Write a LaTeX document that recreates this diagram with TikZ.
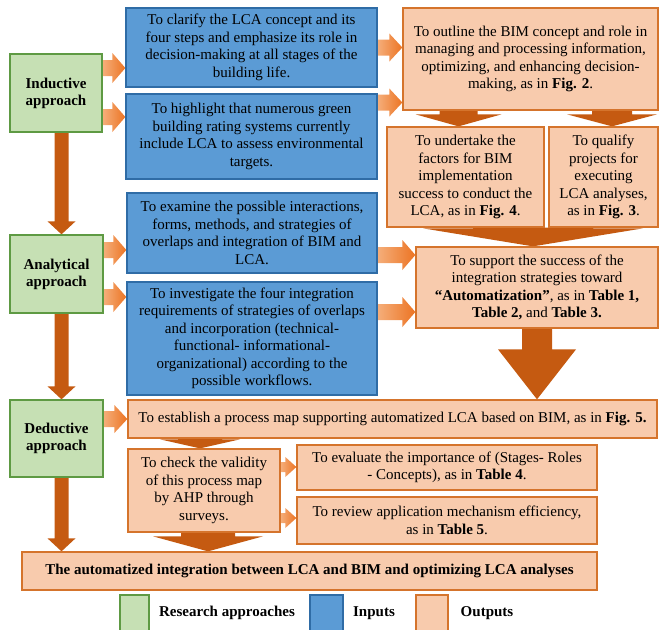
\documentclass[tikz,border=0pt]{standalone}
\usepackage{fontspec}
\setmainfont{Liberation Serif}
\usetikzlibrary{calc,backgrounds}
\definecolor{grnF}{HTML}{C6E0B4}
\definecolor{grnD}{HTML}{5E9A43}
\definecolor{bluF}{HTML}{5B9BD5}
\definecolor{bluD}{HTML}{2F6CA6}
\definecolor{orgF}{HTML}{F8CBAD}
\definecolor{orgD}{HTML}{D5742C}
\definecolor{arrD}{HTML}{C55A11}
\definecolor{arrL}{HTML}{F5AE7A}
\definecolor{arrR}{HTML}{EC7423}
% horizontal block arrow: start, end, shaft half, head half, head length
\newcommand{\harr}[5]{%
 \shade[left color=arrL, right color=arrR] let \p1=#1, \p2=#2 in
 (\x1,{\y1+#3pt}) -- ({\x2-#5pt},{\y1+#3pt}) -- ({\x2-#5pt},{\y1+#4pt}) -- (\x2,\y1)
 -- ({\x2-#5pt},{\y1-#4pt}) -- ({\x2-#5pt},{\y1-#3pt}) -- (\x1,{\y1-#3pt}) -- cycle;}
% vertical block arrow: start, tip, shaft half, head half, head length
\newcommand{\varr}[5]{%
 \fill[arrD] let \p1=#1, \p2=#2 in
 ({\x2-#3pt},\y1) -- ({\x2-#3pt},{\y2+#5pt}) -- ({\x2-#4pt},{\y2+#5pt}) -- (\x2,\y2)
 -- ({\x2+#4pt},{\y2+#5pt}) -- ({\x2+#3pt},{\y2+#5pt}) -- ({\x2+#3pt},\y1) -- cycle;}
\tikzset{
 box/.style={draw, line width=1.3pt, align=center, inner sep=0pt,
   font=\fontsize{15}{17.5}\selectfont},
 grnbox/.style={box, fill=grnF, draw=grnD, font=\fontsize{15}{17}\selectfont\bfseries},
 blubox/.style={box, fill=bluF, draw=bluD},
 orgbox/.style={box, fill=orgF, draw=orgD},
 lgtext/.style={font=\fontsize{15}{17.5}\selectfont\bfseries, inner sep=0pt}
}
\begin{document}
\begin{tikzpicture}[x=1pt,y=-1pt]
\useasboundingbox (0,0) rectangle (660,629);
% approaches
\node[grnbox, minimum width=92pt, minimum height=78pt] (ind) at (56,93) {Inductive\\approach};
\node[grnbox, minimum width=93pt, minimum height=78pt] (ana) at (56.5,274) {Analytical\\approach};
\node[grnbox, minimum width=93pt, minimum height=77pt] (ded) at (56.5,438.5) {Deductive\\approach};
% inputs
\node[blubox, minimum width=251pt, minimum height=79pt] (b1) at (251.5,47.5)
 {To clarify the LCA concept and its\\four steps and emphasize its role in\\decision-making at all stages of the\\building life.};
\node[blubox, minimum width=251pt, minimum height=85pt] (b2) at (251.5,136.5)
 {To highlight that numerous green\\building rating systems currently\\include LCA to assess environmental\\targets.};
\node[blubox, minimum width=250pt, minimum height=80pt] (b3) at (252,233)
 {To examine the possible interactions,\\forms, methods, and strategies of\\overlaps and integration of BIM and\\LCA.};
\node[blubox, minimum width=250pt, minimum height=113pt] (b4) at (252,338.5)
 {To investigate the four integration\\requirements of strategies of overlaps\\and incorporation (technical-\\functional- informational-\\organizational) according to the\\possible workflows.};
% outputs
\node[orgbox, minimum width=255pt, minimum height=102pt] (o) at (530.5,59)
 {To outline the BIM concept and role in\\managing and processing information,\\optimizing, and enhancing decision-\\making, as in \textbf{Fig. 2}.};
\node[orgbox, minimum width=157pt, minimum height=100pt] (u) at (465.5,177)
 {To undertake the\\factors for BIM\\implementation\\success to conduct the\\LCA, as in \textbf{Fig. 4}.};
\node[orgbox, minimum width=109pt, minimum height=100pt] (q) at (603.5,177)
 {To qualify\\projects for\\executing\\LCA analyses,\\as in \textbf{Fig. 3}.};
\node[orgbox, minimum width=242pt, minimum height=81pt] (s) at (537,287.5)
 {To support the success of the\\integration strategies toward\\\textbf{“Automatization”}, as in \textbf{Table 1,}\\\textbf{Table 2,} and \textbf{Table 3.}};
\node[orgbox, minimum width=529pt, minimum height=38pt] (e) at (392.5,419)
 {To establish a process map supporting automatized LCA based on BIM, as in \textbf{Fig. 5.}};
\node[orgbox, minimum width=152pt, minimum height=83pt] (c) at (204,490.5)
 {To check the validity\\of this process map\\by AHP through\\surveys.};
\node[orgbox, minimum width=300pt, minimum height=45pt] (ev) at (447,467.5)
 {To evaluate the importance of (Stages- Roles\\- Concepts), as in \textbf{Table 4}.};
\node[orgbox, minimum width=300pt, minimum height=47pt] (rv) at (447,520.5)
 {To review application mechanism efficiency,\\as in \textbf{Table 5}.};
\node[orgbox, minimum width=575pt, minimum height=38pt, font=\fontsize{15}{17.5}\selectfont\bfseries] (f) at (309.5,571)
 {The automatized integration between LCA and BIM and optimizing LCA analyses};
% legend
\node[box, fill=grnF, draw=grnD, minimum width=29pt, minimum height=36pt] (lg1) at (134.5,613) {};
\node[lgtext] (lt1) at (227,613) {Research approaches};
\node[box, fill=bluF, draw=bluD, minimum width=33pt, minimum height=36pt] (lg2) at (326.5,613) {};
\node[lgtext] (lt2) at (374,613) {Inputs};
\node[box, fill=orgF, draw=orgD, minimum width=32pt, minimum height=36pt] (lg3) at (432,613) {};
\node[lgtext] (lt3) at (487,613) {Outputs};
% arrows
\begin{pgfonlayer}{background}
\harr{([yshift=25pt]ind.east)}{(b1.west)}{8}{15}{13}
\harr{([yshift=-24pt]ind.east)}{(b2.west)}{8}{15}{13}
\harr{([yshift=24pt]ana.east)}{(b3.west)}{8}{15}{13}
\harr{([yshift=-23pt]ana.east)}{(b4.west)}{8}{15}{13}
\harr{([yshift=19.5pt]ded.east)}{(e.west)}{8}{14}{13}
\harr{(b1.east)}{(o.west)}{8}{14}{13}
\harr{([yshift=34pt]b2.east)}{(o.west)}{8}{14}{13}
\harr{([yshift=-22pt]b3.east)}{(s.west)}{8}{15}{13}
\harr{([yshift=26.5pt]b4.east)}{(s.west)}{8}{15}{13}
\harr{([yshift=23.5pt]c.east)}{(ev.west)}{5}{10}{11}
\harr{([yshift=-27.5pt]c.east)}{(rv.west)}{5}{10}{11}
\varr{([xshift=5pt]ind.south)}{([xshift=5pt]ana.north)}{7}{14}{13}
\varr{([xshift=5pt]ana.south)}{([xshift=5pt]ded.north)}{7}{14}{13}
\varr{([xshift=5pt]ded.south)}{([xshift=5pt]ded.south |- f.north)}{7}{14}{13}
\varr{(o.south)}{([xshift=-7pt]u.north)}{19}{43}{12}
\varr{(o.south)}{([xshift=8.5pt]q.north)}{20}{45}{12}
\varr{(u.south)}{([xshift=-4pt]s.north)}{60}{110}{18}
\varr{(s.south)}{(s.south |- e.north)}{15}{39}{50}
\varr{(e.south)}{([xshift=-4pt]c.north)}{22}{40}{9}
\varr{(c.south)}{([xshift=4pt]c.south |- f.north)}{27}{55}{15}
\end{pgfonlayer}
\end{tikzpicture}
\end{document}
